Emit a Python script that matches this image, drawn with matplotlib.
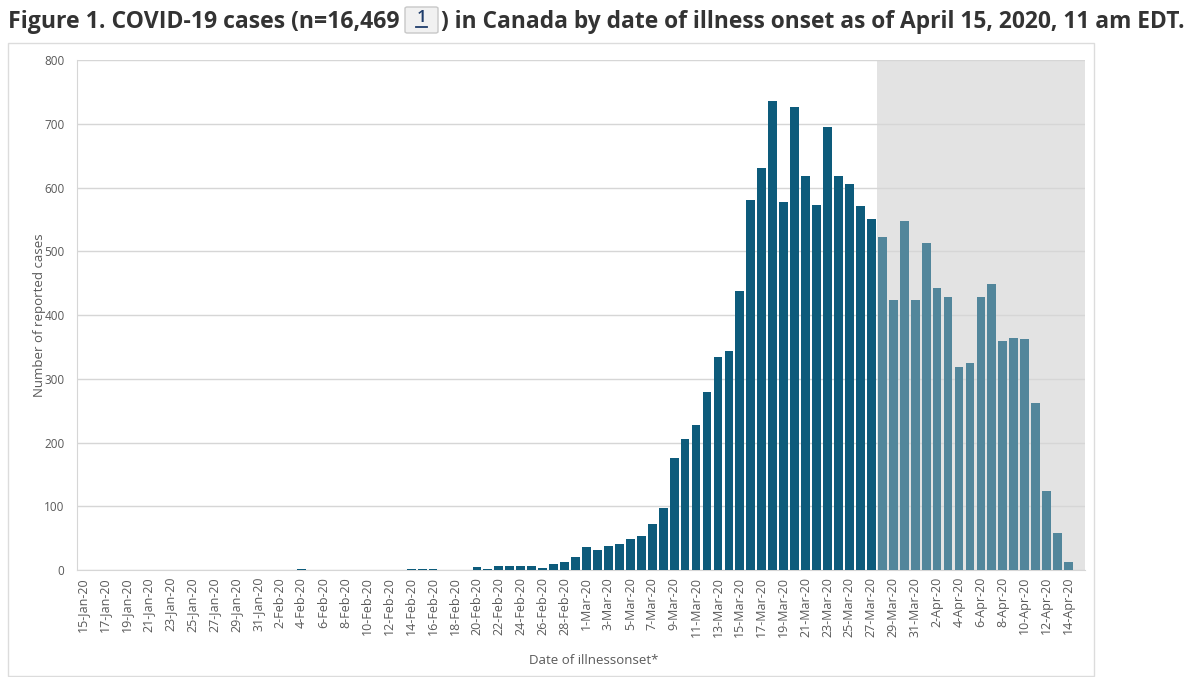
import matplotlib
matplotlib.use("Agg")
import matplotlib.pyplot as plt
import numpy as np
import pandas as pd
from matplotlib.patches import Rectangle, FancyBboxPatch
from matplotlib.lines import Line2D

# ---- data ----
dates = pd.date_range("2020-01-15", "2020-04-15", freq="D")
categories = [f"{d.day}-{d.strftime('%b')}-20" for d in dates]
cases = [0, 0, 0, 0, 0, 0, 0, 0, 0, 0,
         0, 0, 0, 0, 0, 0, 0, 0, 0, 0,
         2, 0, 0, 0, 0, 0, 0, 0, 0, 0,
         2, 2, 2, 0, 0, 0, 5, 2, 7, 7,
         7, 7, 3, 10, 12, 21, 36, 32, 38, 41,
         48, 54, 72, 97, 175, 205, 227, 280, 334, 344,
         437, 581, 631, 736, 578, 727, 618, 573, 695, 618,
         605, 571, 550, 523, 423, 547, 423, 513, 442, 429,
         318, 325, 429, 449, 359, 364, 362, 262, 124, 58,
         12, 0]
last_complete = "27-Mar-20"   # bars after this date are in the shaded (incomplete) period
yticks = [0, 100, 200, 300, 400, 500, 600, 700, 800]

title_part1 = "Figure 1. COVID-19 cases (n=16,469"
title_note = "1"
title_part2 = ") in Canada by date of illness onset as of April 15, 2020, 11 am EDT."
ylabel = "Number of reported cases"
xlabel = "Date of illnessonset*"

# ---- styling ----
DARK = "#0d5b7b"
LIGHT = "#52869b"
SHADE = "#e3e3e3"
GRID = "#d6d6d6"
TXT = "#595959"

W, H = 1200, 677
fig = plt.figure(figsize=(W / 100, H / 100), dpi=100)
fig.patch.set_facecolor("white")

# outer frame
fig.patches.append(Rectangle((8 / W, 1 - 676 / H), (1094 - 8) / W, (676 - 43) / H,
                             transform=fig.transFigure, fill=False,
                             edgecolor="#dcdcdc", lw=1.0, zorder=0))

ax = fig.add_axes([77 / W, 1 - 570 / H, (1085 - 77) / W, (570 - 60) / H])
x = np.arange(len(categories))
split = categories.index(last_complete)
colors = [DARK if i <= split else LIGHT for i in x]

ax.axvspan(split + 0.5, len(categories) - 0.5, color=SHADE, zorder=0, lw=0)
ax.bar(x, cases, width=0.8, color=colors, zorder=3, edgecolor="none")

ax.set_xlim(-0.5, len(categories) - 0.5)
ax.set_ylim(0, 800)
ax.set_yticks(yticks)
ax.yaxis.grid(True, color=GRID, lw=1.0, zorder=1)
ax.set_axisbelow(True)

ax.set_xticks(x[::2])
ax.set_xticklabels(categories[::2], rotation=90, fontsize=9, color=TXT,
                   family="Open Sans")
ax.tick_params(axis="both", length=0)
ax.tick_params(axis="x", pad=5)
ax.tick_params(axis="y", labelsize=8.5, labelcolor=TXT, pad=9)
for lab in ax.get_yticklabels():
    lab.set_family("Open Sans")

for s in ["top", "right"]:
    ax.spines[s].set_visible(False)
ax.spines["left"].set_color(GRID)
ax.spines["bottom"].set_color(GRID)

fig.text(40 / W, 1 - 315 / H, ylabel, rotation=90, ha="center", va="center",
         fontsize=9.5, color=TXT, family="Open Sans")
fig.text(594 / W, 1 - 660 / H, xlabel, ha="center", va="center",
         fontsize=9.5, color=TXT, family="Open Sans")

# ---- title in three pieces ----
tfont = dict(family="Open Sans", weight="bold", color="#333333")
fs = 20
t1 = fig.text(8 / W, 1 - 22 / H, title_part1, ha="left", va="center", fontsize=fs, **tfont)
t2 = fig.text(441 / W, 1 - 22 / H, title_part2, ha="left", va="center", fontsize=fs, **tfont)
fig.canvas.draw()
r = fig.canvas.get_renderer()
w1 = t1.get_window_extent(r).width
w2 = t2.get_window_extent(r).width
t1.set_fontsize(fs * (400 - 8) / w1)
t2.set_fontsize(fs * (1183 - 441) / w2)

bx0, by0, bx1, by1 = 405, 7, 438, 33
fig.patches.append(FancyBboxPatch((bx0 / W, 1 - by1 / H), (bx1 - bx0) / W, (by1 - by0) / H,
                                  boxstyle="round,pad=0,rounding_size=0.002",
                                  transform=fig.transFigure, facecolor="#f1f1f1",
                                  edgecolor="#c8c8c8", lw=1))
fig.text((bx0 + bx1) / 2 / W, 1 - 18 / H, title_note, ha="center", va="center",
         fontsize=12.5, color="#1f3d6b", family="Open Sans", weight="semibold")
fig.lines.append(Line2D([416 / W, 427 / W], [1 - 27 / H, 1 - 27 / H],
                        transform=fig.transFigure, color="#1f3d6b", lw=1.3))

fig.savefig("out.png", dpi=100, facecolor="white")
